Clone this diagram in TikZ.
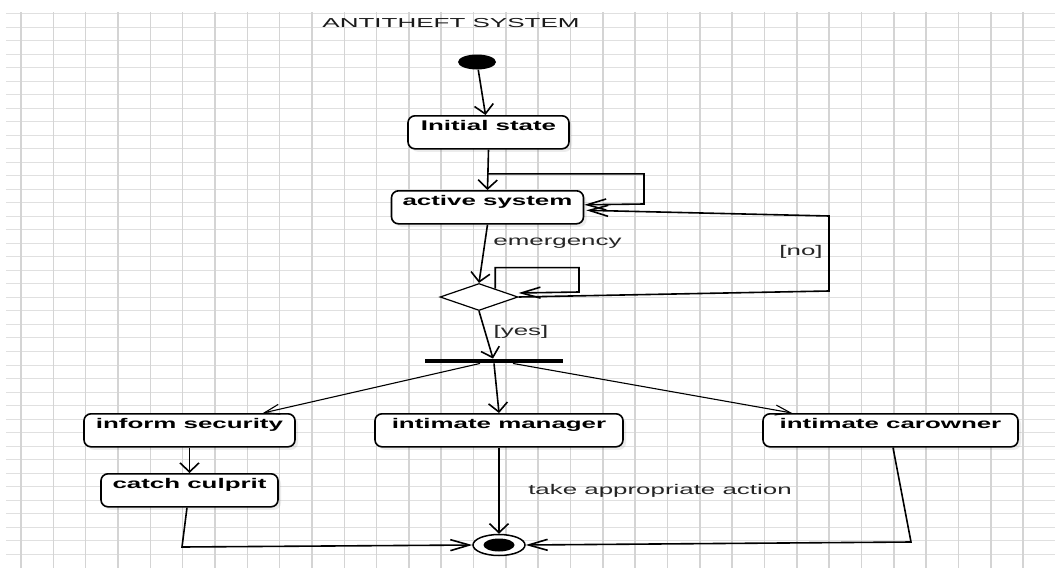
\documentclass[tikz,border=0pt]{standalone}
\usepackage{fontspec}
\usetikzlibrary{arrows.meta,shapes.geometric,shadows,calc}
\newfontfamily\lblfont[FakeStretch=1.85]{Liberation Sans}
\newfontfamily\ttlfont[FakeStretch=2.0]{Liberation Sans}
\tikzset{
  gridv/.style={draw=black!17, line width=1.6pt},
  gridh/.style={draw=black!12, line width=1pt},
  box/.style={draw, line width=1.6pt, rounded corners=7pt, fill=white,
    font=\lblfont\bfseries\fontsize{14pt}{14pt}\selectfont,
    inner xsep=0pt, inner ysep=5pt, text height=10pt, text depth=13pt, anchor=north,
    drop shadow={shadow xshift=3pt, shadow yshift=-3pt, opacity=0.15}},
  flow/.style={line width=1.6pt},
  varrow/.style={flow, -{Straight Barb[length=9pt,width=19pt]}},
  harrow/.style={flow, -{Straight Barb[length=19pt,width=11pt]}},
  darrow/.style={line width=1.1pt, -{Straight Barb[length=15pt,width=10pt]}},
  lbl/.style={font=\lblfont\fontsize{14pt}{14pt}\selectfont, text=black!85, inner sep=0pt},
  ttl/.style={font=\ttlfont\fontsize{13pt}{13pt}\selectfont, text=black!90, inner sep=0pt},
}
\begin{document}
\begin{tikzpicture}[x=1pt,y=-1pt]
\useasboundingbox (0,0) rectangle (1055,570);
\fill[white] (0,0) rectangle (1055,570);
\foreach \k in {0,...,40} \draw[gridh] (6,{13.5+13.52*\k}) -- (1055,{13.5+13.52*\k});
\foreach \k in {0,...,31} \draw[gridv] ({21+32.33*\k},12) -- ({21+32.33*\k},568);

\node[ttl] (title) at (451,22.7) {ANTITHEFT SYSTEM};
\node[ellipse, fill, minimum width=38pt, minimum height=15pt, inner sep=0pt] (start) at (477,62) {};
\node[box, minimum width=161pt] (init) at (488.5,115) {Initial state};
\node[box, minimum width=192pt] (act) at (487.5,190) {active system};
\node[diamond, draw, line width=1.2pt, fill=white, minimum width=78pt, minimum height=27pt, inner sep=0pt, aspect=2.9] (dec) at (479,297) {};
\node[fill, minimum width=138pt, minimum height=4.5pt, inner sep=0pt] (bar) at (494,361) {};
\node[box, minimum width=211pt] (inf) at (189.5,413) {inform security};
\node[box, minimum width=177pt] (cat) at (189.5,473) {catch culprit};
\node[box, minimum width=248pt] (man) at (499,413) {intimate manager};
\node[box, minimum width=255pt] (car) at (890.5,413) {intimate carowner};
\node[ellipse, draw, line width=1.5pt, fill=white, minimum width=52pt, minimum height=21pt, inner sep=0pt] (fin) at (499,545) {};
\node[ellipse, fill, minimum width=31pt, minimum height=13pt, inner sep=0pt] (finin) at (fin) {};

\node[lbl] (em) at (557.5,243) {emergency};
\node[lbl] (no) at (801,252) {[no]};
\node[lbl] (yes) at (521,332) {[yes]};
\node[lbl] (take) at (660,491) {take appropriate action};

\draw[varrow] (start) -- ($(init.north)+(-3,0)$);
\draw[varrow] (init.south) -- (act.north);
\coordinate (lp1) at ($(init.south)!0.6!(act.north)$);
\draw[harrow] (lp1) -| (644,204) -- ($(act.east)+(0,-2.5)$);
\draw[varrow] (act.south) -- (dec.north);
\coordinate (dl) at ($(dec.north)!0.41!(dec.east)$);
\draw[harrow] (dl) -- ++(0,-21) -| (579,292) -- ($(dec.east)+(0,-4)$);
\draw[harrow] (dec.east) -- (829,291) -- (829,216) -- ($(act.east)+(2,3)$);
\draw[varrow] (dec.south) -- ($(bar.north)+(-1,0)$);
\draw[varrow] (bar.south) -- (man.north);
\draw[darrow] ($(bar.south)+(-14,0)$) -- ($(inf.north)+(73.5,0)$);
\draw[darrow] ($(bar.south)+(19,0)$) -- ($(car.north)+(-98.5,0)$);
\draw[varrow] (inf.south) -- (cat.north);
\draw[harrow] ($(cat.south)+(-2.5,0)$) -- (182,547) -- (fin.west);
\draw[varrow] (man.south) -- (fin.north);
\draw[harrow] ($(car.south)+(2.5,0)$) -- (911,542) -- (fin.east);
\end{tikzpicture}
\end{document}
